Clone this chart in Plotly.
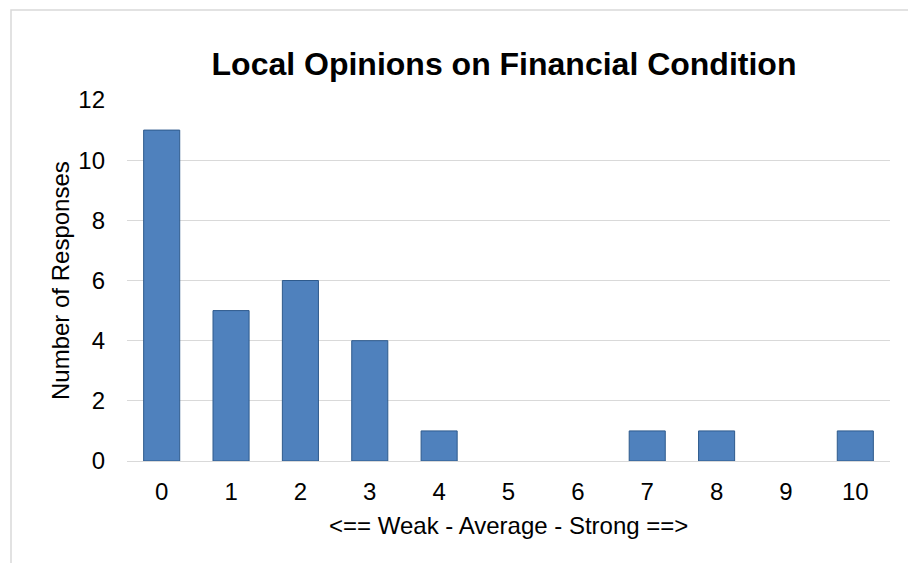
import plotly.graph_objects as go

categories = ["0", "1", "2", "3", "4", "5", "6", "7", "8", "9", "10"]
responses = [11, 5, 6, 4, 1, 0, 0, 1, 1, 0, 1]
y_ticks = [0, 2, 4, 6, 8, 10, 12]

W, H = 908, 563
L, R, T, B = 127, 18, 100, 102
pw, ph = W - L - R, H - T - B

def px(x):
    return (x - L) / pw

def py(y):
    return (H - B - y) / ph

fig = go.Figure(go.Bar(
    x=categories, y=responses,
    marker=dict(color="#4F81BD",
                line=dict(color="#2E5A8C", width=[1 if v > 0 else 0 for v in responses])),
    width=0.52,
))

fig.update_layout(
    width=W, height=H,
    margin=dict(l=L, r=R, t=T, b=B),
    paper_bgcolor="white", plot_bgcolor="white",
    font=dict(family="Liberation Sans, Arial, sans-serif", color="black", size=24),
    title=dict(text="<b>Local Opinions on Financial Condition</b>",
               x=px(504), xref="paper", xanchor="center",
               y=1 - 64 / H, yanchor="middle",
               font=dict(size=32, color="black")),
    showlegend=False,
    bargap=0.48,
)
fig.update_xaxes(type="category", showgrid=False, showline=True, linecolor="#D9D9D9",
                 linewidth=1, ticks="", tickfont=dict(size=24), ticklabelstandoff=9)
fig.update_yaxes(range=[0, 12], tickvals=y_ticks, showgrid=True, gridcolor="#D9D9D9",
                 gridwidth=1, zeroline=False, showline=False, ticks="",
                 tickfont=dict(size=24), ticklabelstandoff=21)

fig.add_annotation(text="<== Weak - Average - Strong ==>", xref="paper", yref="paper",
                   x=px(508), y=py(525), showarrow=False, font=dict(size=24),
                   xanchor="center", yanchor="middle")
fig.add_annotation(text="Number of Responses", xref="paper", yref="paper",
                   x=px(60), y=py(281), showarrow=False, font=dict(size=24),
                   textangle=-90, xanchor="center", yanchor="middle")

fig.add_shape(type="rect", xref="paper", yref="paper",
              x0=px(11), x1=px(915), y0=py(575), y1=py(10),
              line=dict(color="#D9D9D9", width=1.5), fillcolor="rgba(0,0,0,0)", layer="below")

fig.write_html("out.html")
